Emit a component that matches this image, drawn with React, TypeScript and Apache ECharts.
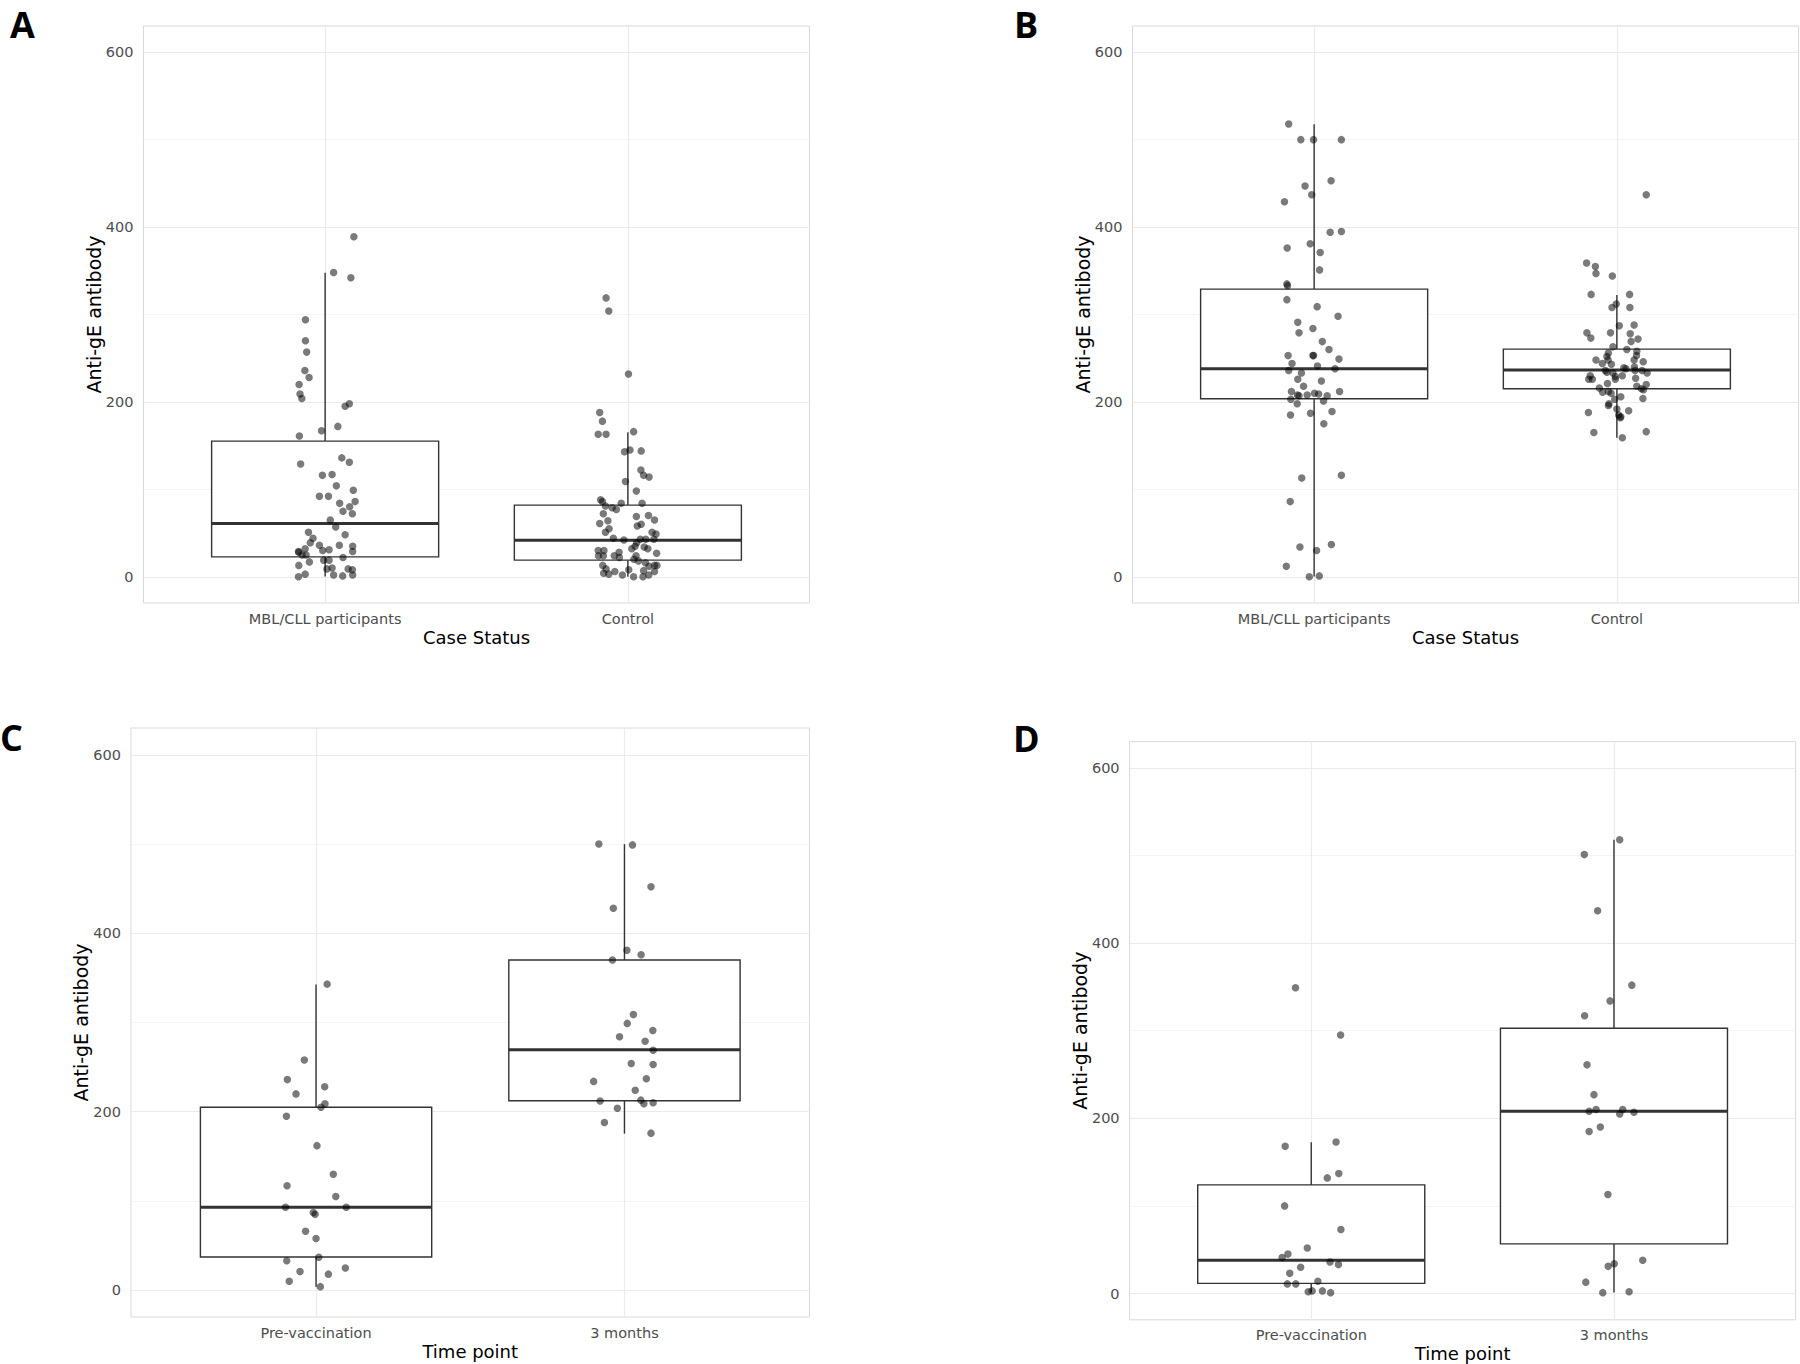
import React, { useEffect, useRef } from "react";
import * as echarts from "echarts";

// ---------- categories & ticks ----------
const caseCategories = ["MBL/CLL participants", "Control"];
const timeCategories = ["Pre-vaccination", "3 months"];
const yTicks = [0, 200, 400, 600];
const yMinorTicks = [100, 300, 500];
const yAxisTitle = "Anti-gE antibody";

// ---------- Panel A (case status, pre) ----------
const aMblValues = [389, 348, 342, 294, 270, 257, 236, 228, 220, 209, 204, 198, 195, 172, 167, 161, 136, 131, 129, 116, 117, 104, 99, 92, 92, 84, 86, 80, 75, 72, 65, 57, 51, 48, 44, 39, 36, 36, 35, 32, 29, 28, 30, 31, 29, 25, 25, 22, 17, 19, 19, 13, 9, 10, 9, 8, 3, 0, 2, 1, 2];
const aMblJitter = [0.095, 0.028, 0.085, -0.065, -0.065, -0.061, -0.067, -0.053, -0.086, -0.083, -0.077, 0.08, 0.066, 0.042, -0.012, -0.085, 0.055, 0.08, -0.081, -0.009, 0.023, 0.037, 0.093, -0.019, 0.011, 0.048, 0.099, 0.081, 0.059, 0.09, 0.017, 0.035, -0.055, 0.066, -0.04, -0.049, -0.019, 0.047, 0.091, -0.066, -0.088, -0.087, -0.008, 0.013, 0.091, -0.076, -0.063, 0.059, -0.052, -0.005, 0.013, -0.087, 0.006, 0.023, 0.076, 0.09, -0.066, -0.088, 0.028, 0.058, 0.091];
const aMblBox = [0.3, 22.8, 61, 155.2, 347.7]; // low whisker, Q1, median, Q3, high whisker

const aCtrlValues = [319, 304, 232, 188, 178, 163, 163, 166, 143, 145, 144, 122, 116, 114, 109, 98, 88, 86, 84, 84, 81, 79, 77, 72, 69, 70, 65, 64, 61, 60, 58, 55, 51, 51, 49, 44, 42, 43, 43, 43, 39, 35, 32, 34, 32, 30, 30, 28, 27, 24, 24, 24, 22, 24, 20, 18, 16, 13, 13, 12, 13, 9, 6, 8, 7, 6, 4, 3, 2, 0, 0, 2];
const aCtrlJitter = [-0.072, -0.063, 0.002, -0.093, -0.084, -0.098, -0.072, 0.019, -0.011, 0.007, 0.044, 0.043, 0.052, 0.07, -0.008, 0.028, -0.09, -0.084, -0.022, 0.047, -0.074, -0.052, -0.038, -0.081, 0.028, 0.068, 0.088, -0.066, -0.093, 0.044, 0.031, -0.062, -0.074, 0.08, 0.093, -0.048, -0.013, 0.041, 0.059, 0.086, 0.029, 0.024, 0.013, 0.054, 0.066, -0.098, -0.079, -0.029, 0.095, -0.097, -0.081, -0.045, -0.028, 0.027, 0.02, 0.035, 0.058, -0.083, 0.096, 0.07, 0.088, -0.072, -0.043, 0.003, 0.052, 0.088, -0.08, -0.063, -0.018, 0.019, 0.05, 0.069];
const aCtrlBox = [0, 19, 41.9, 82, 165.4];

// ---------- Panel B (case status, post) ----------
const bMblValues = [518, 500, 500, 500, 453, 447, 437, 429, 394, 395, 376, 381, 371, 351, 335, 333, 317, 309, 298, 291, 279, 284, 269, 260, 253, 253, 253, 249, 244, 241, 236, 238, 233, 226, 224, 218, 212, 212, 208, 207, 208, 210, 209, 207, 203, 198, 201, 189, 187, 185, 175, 116, 113, 86, 37, 34, 30, 12, 0, 1];
const bMblJitter = [-0.084, -0.044, -0.002, 0.09, 0.056, -0.03, -0.008, -0.098, 0.053, 0.09, -0.089, -0.013, 0.02, 0.018, -0.09, -0.088, -0.09, 0.01, 0.079, -0.054, -0.05, -0.004, 0.027, 0.049, -0.086, -0.002, -0.004, 0.082, -0.073, 0.011, -0.084, 0.069, -0.042, -0.054, 0.024, -0.035, 0.084, -0.075, -0.055, -0.05, -0.023, 0.001, 0.015, 0.043, -0.077, -0.056, 0.031, 0.059, -0.012, -0.078, 0.032, 0.09, -0.041, -0.079, 0.057, -0.047, 0.008, -0.092, -0.016, 0.017];
const bMblBox = [0.3, 203.6, 237.9, 329, 517.5];

const bCtrlValues = [437, 359, 355, 347, 344, 323, 323, 312, 308, 308, 287, 288, 279, 279, 273, 278, 272, 269, 263, 260, 258, 256, 253, 252, 248, 248, 248, 246, 244, 243, 236, 239, 238, 240, 236, 236, 234, 233, 233, 230, 226, 226, 229, 230, 227, 221, 226, 220, 216, 218, 215, 214, 211, 212, 210, 203, 206, 204, 198, 196, 192, 188, 190, 185, 183, 182, 165, 166, 159];
const bCtrlJitter = [0.097, -0.1, -0.071, -0.069, -0.015, -0.085, 0.042, -0.002, -0.016, 0.043, 0.008, 0.057, -0.099, -0.021, -0.086, 0.044, 0.07, 0.047, -0.013, 0.033, 0.066, -0.028, 0.065, -0.033, -0.069, -0.029, 0.057, 0.087, -0.048, -0.018, -0.038, 0.023, 0.03, 0.058, 0.06, 0.083, -0.033, -0.013, 0.1, -0.088, -0.093, -0.081, -0.005, 0.018, 0.062, -0.031, -0.005, 0.097, -0.058, 0.066, 0.081, 0.088, -0.047, -0.028, -0.019, -0.007, 0.013, 0.086, -0.026, -0.028, 0, -0.094, 0.039, 0.006, 0.013, 0.011, -0.076, 0.097, 0.018];
const bCtrlBox = [158.9, 215, 236.4, 260.4, 322.2];

// ---------- Panel C (time point) ----------
const cPreValues = [343, 258, 236, 228, 220, 209, 205, 195, 162, 130, 117, 105, 93, 93, 87, 85, 66, 58, 37, 33, 25, 21, 18, 10, 4];
const cPreJitter = [0.036, -0.038, -0.093, 0.028, -0.065, 0.029, 0.016, -0.096, 0.003, 0.056, -0.094, 0.064, -0.099, 0.098, -0.009, -0.003, -0.034, 0, 0.009, -0.095, 0.095, -0.052, 0.04, -0.087, 0.014];
const cPreBox = [3.8, 37.2, 93, 205, 342.5];

const c3mValues = [500, 499, 452, 428, 381, 376, 370, 309, 299, 291, 284, 279, 269, 254, 253, 237, 234, 224, 212, 213, 209, 210, 204, 188, 176];
const c3mJitter = [-0.083, 0.026, 0.086, -0.036, 0.008, 0.054, -0.039, 0.029, 0.009, 0.092, -0.016, 0.067, 0.093, 0.022, 0.093, 0.071, -0.1, 0.035, -0.079, 0.053, 0.063, 0.093, -0.023, -0.065, 0.086];
const c3mBox = [175.5, 212.4, 269.5, 370, 499.8];

// ---------- Panel D (time point) ----------
const dPreValues = [349, 295, 173, 168, 137, 132, 100, 73, 52, 45, 41, 36, 33, 30, 23, 11, 11, 14, 2, 3, 3, 1];
const dPreJitter = [-0.052, 0.097, 0.082, -0.086, 0.091, 0.053, -0.088, 0.098, -0.013, -0.077, -0.096, 0.062, 0.09, -0.035, -0.071, -0.079, -0.051, 0.022, -0.01, 0.003, 0.037, 0.064];
const dPreBox = [1.4, 11.6, 37.9, 124, 172.7];

const d3mValues = [518, 501, 437, 352, 334, 317, 261, 227, 208, 210, 205, 210, 207, 190, 185, 113, 38, 34, 31, 13, 1, 2];
const d3mJitter = [0.019, -0.098, -0.054, 0.059, -0.013, -0.097, -0.089, -0.066, -0.082, -0.059, 0.019, 0.029, 0.066, -0.045, -0.082, -0.02, 0.095, 0.001, -0.019, -0.093, -0.037, 0.05];
const d3mBox = [1.3, 56.7, 208.1, 302.8, 518];

// ---------- layout / style ----------
const FONT = "DejaVu Sans";
const TICK_COLOR = "#4d4d4d";
const BOX_COLOR = "#333333";
const POINT_COLOR = "rgba(0,0,0,0.65)";
const BOX_HALF = 0.375;

const panels = [
  { letter: "A", lx: 10, ly: 24, grid: { left: 143.5, top: 26, width: 666, height: 577 }, cats: caseCategories, xTitle: "Case Status",
    groups: [{ v: aMblValues, j: aMblJitter, box: aMblBox }, { v: aCtrlValues, j: aCtrlJitter, box: aCtrlBox }] },
  { letter: "B", lx: 1014, ly: 24, grid: { left: 1132.5, top: 26, width: 666, height: 577 }, cats: caseCategories, xTitle: "Case Status",
    groups: [{ v: bMblValues, j: bMblJitter, box: bMblBox }, { v: bCtrlValues, j: bCtrlJitter, box: bCtrlBox }] },
  { letter: "C", lx: 0, ly: 737, grid: { left: 131, top: 728, width: 678.5, height: 589 }, cats: timeCategories, xTitle: "Time point",
    groups: [{ v: cPreValues, j: cPreJitter, box: cPreBox }, { v: c3mValues, j: c3mJitter, box: c3mBox }] },
  { letter: "D", lx: 1013, ly: 738, grid: { left: 1129.6, top: 741.6, width: 666, height: 578.2 }, cats: timeCategories, xTitle: "Time point",
    groups: [{ v: dPreValues, j: dPreJitter, box: dPreBox }, { v: d3mValues, j: d3mJitter, box: d3mBox }] },
];

function buildOption() {
  const grid: any[] = [];
  const xAxis: any[] = [];
  const yAxis: any[] = [];
  const series: any[] = [];
  const graphic: any[] = [];

  panels.forEach((p, i) => {
    grid.push({ ...p.grid, show: true, borderColor: "#d9d9d9", borderWidth: 1, backgroundColor: "#ffffff" });
    xAxis.push({
      gridIndex: i, type: "value", min: 0.4, max: 2.6,
      axisLine: { show: false }, axisTick: { show: false }, splitLine: { show: false },
      axisLabel: {
        customValues: [1, 2], margin: 8, color: TICK_COLOR, fontSize: 14.5, fontFamily: FONT,
        formatter: (v: number) => p.cats[Math.round(v) - 1] ?? "",
      },
    });
    yAxis.push({
      gridIndex: i, type: "value", min: -30, max: 630,
      axisLine: { show: false }, axisTick: { show: false }, splitLine: { show: false },
      axisLabel: { customValues: yTicks, margin: 10, color: TICK_COLOR, fontSize: 14.5, fontFamily: FONT },
    });

    const gridLines = [
      ...yMinorTicks.map((v) => ({ yAxis: v, lineStyle: { color: "#f2f2f2", width: 0.8, type: "solid" } })),
      ...yTicks.map((v) => ({ yAxis: v, lineStyle: { color: "#ebebeb", width: 1.2, type: "solid" } })),
      { xAxis: 1, lineStyle: { color: "#ebebeb", width: 1.2, type: "solid" } },
      { xAxis: 2, lineStyle: { color: "#ebebeb", width: 1.2, type: "solid" } },
    ];

    series.push({
      type: "custom",
      xAxisIndex: i, yAxisIndex: i, z: 3, silent: true,
      encode: { x: 0, y: [1, 2, 3, 4, 5] },
      data: p.groups.map((g, gi) => [gi + 1, ...g.box]),
      renderItem: (_params: any, api: any) => {
        const x = api.value(0);
        const low = api.value(1), q1 = api.value(2), med = api.value(3), q3 = api.value(4), high = api.value(5);
        const tl = api.coord([x - BOX_HALF, q3]);
        const br = api.coord([x + BOX_HALF, q1]);
        const ml = api.coord([x - BOX_HALF, med]);
        const mr = api.coord([x + BOX_HALF, med]);
        const ph = api.coord([x, high]);
        const p3 = api.coord([x, q3]);
        const p1 = api.coord([x, q1]);
        const pl = api.coord([x, low]);
        const stroke = { stroke: BOX_COLOR, lineWidth: 1.4 };
        return {
          type: "group",
          children: [
            { type: "line", shape: { x1: ph[0], y1: ph[1], x2: p3[0], y2: p3[1] }, style: stroke },
            { type: "line", shape: { x1: p1[0], y1: p1[1], x2: pl[0], y2: pl[1] }, style: stroke },
            { type: "rect", shape: { x: tl[0], y: tl[1], width: br[0] - tl[0], height: br[1] - tl[1] }, style: { fill: "#ffffff", ...stroke } },
            { type: "line", shape: { x1: ml[0], y1: ml[1], x2: mr[0], y2: mr[1] }, style: { stroke: BOX_COLOR, lineWidth: 3 } },
          ],
        };
      },
      markLine: { silent: true, z: 1, symbol: ["none", "none"], label: { show: false }, emphasis: { disabled: true }, data: gridLines },
    });

    p.groups.forEach((g, gi) => {
      series.push({
        type: "scatter", xAxisIndex: i, yAxisIndex: i, z: 4, silent: true,
        symbol: "circle", symbolSize: 7.5,
        itemStyle: { color: POINT_COLOR },
        data: g.v.map((val, k) => [gi + 1 + g.j[k], val]),
      });
    });

    const cx = p.grid.left + p.grid.width / 2;
    const cy = p.grid.top + p.grid.height / 2;
    graphic.push({
      type: "text", x: p.grid.left - 50, y: cy, rotation: Math.PI / 2,
      style: { text: yAxisTitle, fill: "#000", font: `19px '${FONT}'`, align: "center", verticalAlign: "middle" },
    });
    graphic.push({
      type: "text", x: cx, y: p.grid.top + p.grid.height + 34,
      style: { text: p.xTitle, fill: "#000", font: `18px '${FONT}'`, align: "center", verticalAlign: "middle" },
    });
    graphic.push({
      type: "text", x: p.lx, y: p.ly,
      style: { text: p.letter, fill: "#000", font: `bold 36px 'Open Sans'`, align: "left", verticalAlign: "middle" },
    });
  });

  return { animation: false, backgroundColor: "#ffffff", grid, xAxis, yAxis, series, graphic };
}

export default function App() {
  const ref = useRef<HTMLDivElement>(null);
  useEffect(() => {
    document.body.style.margin = "0";
    if (!ref.current) return;
    const chart = echarts.init(ref.current, undefined, { renderer: "svg" });
    chart.setOption(buildOption() as any);
    return () => chart.dispose();
  }, []);
  return <div ref={ref} style={{ width: 1800, height: 1364, position: "absolute", left: 0, top: 0 }} />;
}
